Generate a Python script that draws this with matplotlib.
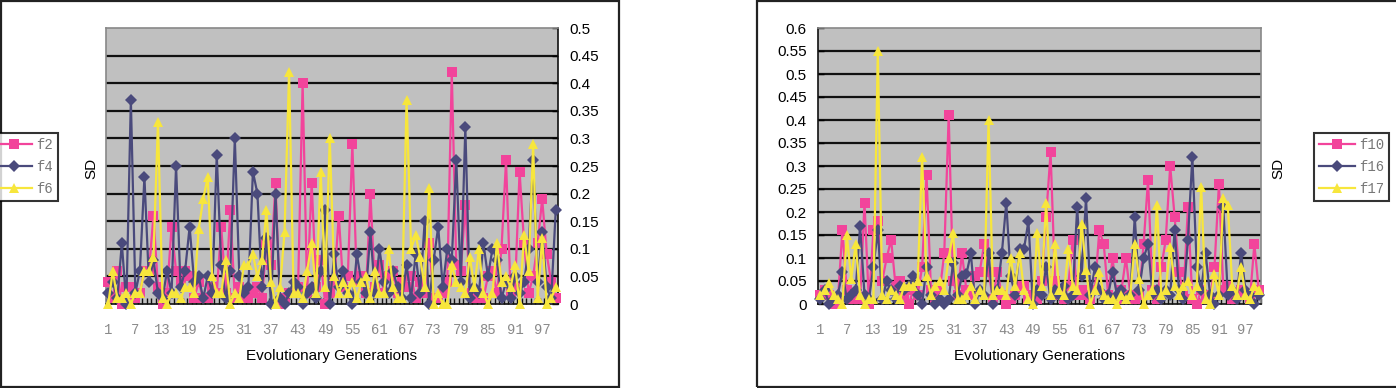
import matplotlib
matplotlib.use("Agg")
import matplotlib.pyplot as plt
from matplotlib.patches import Rectangle
import numpy as np

plt.rcParams['font.family'] = ['Liberation Sans', 'DejaVu Sans']

generations = list(range(1, 101))
xtick_labels = [str(v) for v in range(1, 101, 6)]

f2 = [0.04, 0.01, 0.06, 0.00, 0.03, 0.03, 0.01, 0.02, 0.06, 0.06,
      0.16, 0.03, 0.00, 0.02, 0.14, 0.06, 0.04, 0.06, 0.05, 0.01,
      0.04, 0.01, 0.01, 0.03, 0.02, 0.14, 0.02, 0.17, 0.01, 0.03,
      0.01, 0.01, 0.02, 0.03, 0.01, 0.11, 0.07, 0.22, 0.00, 0.01,
      0.02, 0.02, 0.03, 0.40, 0.02, 0.22, 0.03, 0.08, 0.00, 0.02,
      0.04, 0.16, 0.03, 0.05, 0.29, 0.04, 0.05, 0.02, 0.20, 0.03,
      0.07, 0.02, 0.05, 0.06, 0.02, 0.04, 0.03, 0.05, 0.01, 0.04,
      0.02, 0.11, 0.01, 0.01, 0.02, 0.04, 0.42, 0.07, 0.06, 0.18,
      0.02, 0.01, 0.02, 0.01, 0.05, 0.06, 0.02, 0.10, 0.26, 0.02,
      0.03, 0.24, 0.11, 0.02, 0.05, 0.11, 0.19, 0.09, 0.04, 0.01]
f4 = [0.02, 0.04, 0.01, 0.11, 0.00, 0.37, 0.02, 0.06, 0.23, 0.04,
      0.08, 0.02, 0.01, 0.06, 0.02, 0.25, 0.03, 0.06, 0.14, 0.04,
      0.05, 0.01, 0.05, 0.02, 0.27, 0.07, 0.01, 0.06, 0.30, 0.05,
      0.02, 0.03, 0.24, 0.20, 0.03, 0.12, 0.00, 0.20, 0.01, 0.00,
      0.02, 0.04, 0.03, 0.00, 0.02, 0.03, 0.01, 0.06, 0.17, 0.00,
      0.09, 0.03, 0.06, 0.02, 0.00, 0.09, 0.04, 0.02, 0.13, 0.02,
      0.10, 0.04, 0.02, 0.06, 0.03, 0.01, 0.07, 0.01, 0.09, 0.02,
      0.15, 0.00, 0.08, 0.14, 0.03, 0.10, 0.08, 0.26, 0.04, 0.32,
      0.01, 0.03, 0.02, 0.11, 0.05, 0.10, 0.08, 0.01, 0.04, 0.01,
      0.05, 0.02, 0.04, 0.10, 0.26, 0.04, 0.13, 0.03, 0.01, 0.17]
f6 = [0.00, 0.06, 0.01, 0.01, 0.02, 0.00, 0.02, 0.02, 0.06, 0.06,
      0.085, 0.33, 0.01, 0.00, 0.02, 0.02, 0.01, 0.03, 0.03, 0.02,
      0.135, 0.19, 0.23, 0.05, 0.02, 0.02, 0.08, 0.00, 0.02, 0.01,
      0.07, 0.07, 0.09, 0.05, 0.08, 0.17, 0.04, 0.00, 0.03, 0.13,
      0.42, 0.02, 0.02, 0.01, 0.06, 0.11, 0.02, 0.24, 0.03, 0.30,
      0.05, 0.02, 0.04, 0.02, 0.04, 0.01, 0.04, 0.05, 0.01, 0.06,
      0.02, 0.02, 0.10, 0.03, 0.01, 0.01, 0.37, 0.10, 0.125, 0.085,
      0.03, 0.21, 0.00, 0.02, 0.00, 0.00, 0.07, 0.04, 0.03, 0.02,
      0.085, 0.03, 0.10, 0.02, 0.00, 0.02, 0.11, 0.04, 0.05, 0.03,
      0.07, 0.00, 0.125, 0.06, 0.29, 0.01, 0.12, 0.00, 0.01, 0.03]

f10 = [0.02, 0.03, 0.02, 0.00, 0.01, 0.16, 0.03, 0.01, 0.02, 0.01,
       0.22, 0.00, 0.16, 0.18, 0.05, 0.10, 0.14, 0.04, 0.05, 0.02,
       0.00, 0.03, 0.02, 0.08, 0.28, 0.03, 0.01, 0.03, 0.11, 0.41,
       0.05, 0.02, 0.11, 0.03, 0.02, 0.06, 0.07, 0.13, 0.07, 0.01,
       0.07, 0.02, 0.00, 0.01, 0.02, 0.04, 0.04, 0.01, 0.02, 0.01,
       0.05, 0.19, 0.33, 0.05, 0.02, 0.01, 0.04, 0.14, 0.02, 0.03,
       0.02, 0.01, 0.03, 0.16, 0.13, 0.02, 0.10, 0.01, 0.03, 0.10,
       0.02, 0.01, 0.02, 0.13, 0.27, 0.03, 0.01, 0.08, 0.14, 0.30,
       0.19, 0.07, 0.02, 0.21, 0.01, 0.00, 0.03, 0.02, 0.01, 0.08,
       0.26, 0.03, 0.04, 0.01, 0.02, 0.03, 0.02, 0.01, 0.13, 0.03]
f16 = [0.01, 0.03, 0.00, 0.01, 0.02, 0.07, 0.01, 0.02, 0.03, 0.17,
       0.02, 0.01, 0.08, 0.16, 0.01, 0.05, 0.03, 0.01, 0.04, 0.03,
       0.04, 0.06, 0.02, 0.00, 0.08, 0.02, 0.00, 0.01, 0.00, 0.01,
       0.09, 0.02, 0.06, 0.065, 0.11, 0.00, 0.03, 0.02, 0.11, 0.00,
       0.03, 0.11, 0.22, 0.06, 0.02, 0.12, 0.12, 0.18, 0.00, 0.03,
       0.02, 0.08, 0.01, 0.03, 0.02, 0.04, 0.01, 0.02, 0.21, 0.06,
       0.23, 0.02, 0.08, 0.03, 0.01, 0.02, 0.07, 0.02, 0.03, 0.01,
       0.02, 0.19, 0.03, 0.10, 0.13, 0.02, 0.03, 0.01, 0.03, 0.02,
       0.16, 0.03, 0.01, 0.14, 0.32, 0.08, 0.03, 0.11, 0.02, 0.00,
       0.02, 0.21, 0.02, 0.03, 0.01, 0.11, 0.03, 0.02, 0.00, 0.02]
f17 = [0.02, 0.03, 0.045, 0.02, 0.01, 0.00, 0.15, 0.055, 0.13, 0.02,
       0.00, 0.01, 0.01, 0.55, 0.02, 0.01, 0.03, 0.02, 0.01, 0.04,
       0.04, 0.04, 0.05, 0.32, 0.06, 0.02, 0.04, 0.05, 0.03, 0.10,
       0.155, 0.01, 0.01, 0.02, 0.04, 0.01, 0.03, 0.02, 0.40, 0.02,
       0.03, 0.03, 0.02, 0.10, 0.04, 0.11, 0.03, 0.01, 0.00, 0.155,
       0.04, 0.22, 0.02, 0.13, 0.03, 0.02, 0.12, 0.04, 0.03, 0.175,
       0.075, 0.00, 0.03, 0.07, 0.02, 0.01, 0.01, 0.00, 0.02, 0.01,
       0.02, 0.13, 0.055, 0.00, 0.02, 0.03, 0.215, 0.02, 0.03, 0.125,
       0.04, 0.02, 0.04, 0.05, 0.02, 0.04, 0.255, 0.01, 0.00, 0.065,
       0.02, 0.23, 0.215, 0.04, 0.02, 0.08, 0.02, 0.01, 0.04, 0.03]

PINK = '#F2449B'
NAVY = '#4A4A7C'
YELLOW = '#F7E63C'

W, H = 1396, 388
fig = plt.figure(figsize=(W / 100, H / 100), dpi=100)


def px_axes(x0, x1, ytop, ybot):
    return fig.add_axes([x0 / W, (H - ybot) / H, (x1 - x0) / W, (ybot - ytop) / H])


def style_axes(ax, ymax, yside):
    ax.set_facecolor('#C0C0C0')
    ax.set_xlim(0.5, 100.5)
    ax.set_ylim(0, ymax)
    ticks = np.arange(0, ymax + 1e-9, 0.05)
    ax.set_yticks(ticks)
    ax.set_yticklabels(['0' if t == 0 else ('%.2f' % t).rstrip('0').rstrip('.') for t in ticks])
    for t in ticks[1:-1]:
        ax.axhline(t, color='#111111', lw=1.6, zorder=1)
    ax.set_xticks(range(1, 101, 6))
    ax.set_xticklabels(xtick_labels, fontsize=10, color='#8a8a8a', family=['Liberation Mono', 'DejaVu Sans Mono'])
    ax.set_xticks(np.arange(0.5, 101, 1), minor=True)
    ax.tick_params(axis='x', which='major', length=0, pad=14)
    ax.tick_params(axis='x', which='minor', length=4, direction='in', width=1, color='#111111')
    ax.tick_params(axis='y', labelsize=11, length=4, direction='in', width=1, pad=8)
    if yside == 'right':
        ax.yaxis.tick_right()
    for s in ['top', 'left', 'right']:
        ax.spines[s].set_color('#888888')
    ax.spines['bottom'].set_color('#111111')
    ax.spines[yside].set_color('#111111')
    for s in ax.spines.values():
        s.set_linewidth(1.2)
    ax.set_xlabel('Evolutionary Generations', fontsize=11, labelpad=8)


def draw(ax, series, labels):
    styles = [(PINK, 's', 6.5), (NAVY, 'D', 6), (YELLOW, '^', 7.5)]
    handles = []
    for vals, lab, (c, m, ms) in zip(series, labels, styles):
        h, = ax.plot(generations, vals, color=c, marker=m, markersize=ms, lw=1.6,
                     markeredgewidth=0, label=lab, zorder=3, clip_on=False)
        handles.append(h)
    return handles


def make_legend(handles, x_px):
    leg = fig.legend(handles=handles, loc='center left', bbox_to_anchor=(x_px / W, 1 - 167 / H),
                     frameon=True, fancybox=False, edgecolor='black',
                     handlelength=2.6, handletextpad=0.3, borderpad=0.35, labelspacing=0.55,
                     prop={'family': ['Liberation Mono', 'DejaVu Sans Mono'], 'size': 10})
    leg.get_frame().set_linewidth(1.5)
    for t in leg.get_texts():
        t.set_color('#777777')
    return leg


# Left panel
axL = px_axes(106, 558, 28, 304)
style_axes(axL, 0.5, 'right')
hL = draw(axL, [f2, f4, f6], ['f2', 'f4', 'f6'])
fig.text(91 / W, 1 - 168 / H, 'SD', rotation=90, ha='center', va='center', fontsize=11)
make_legend(hL, -16)

# Right panel
axR = px_axes(818, 1261, 28, 304)
style_axes(axR, 0.6, 'left')
hR = draw(axR, [f10, f16, f17], ['f10', 'f16', 'f17'])
fig.text(1278 / W, 1 - 168 / H, 'SD', rotation=90, ha='center', va='center', fontsize=11)
make_legend(hR, 1307)

# Panel frames
fig.patches.append(Rectangle((1 / W, 1 / H), 618 / W, 386 / H, transform=fig.transFigure,
                             fill=False, edgecolor='#222222', lw=1.6))
fig.patches.append(Rectangle((757 / W, 1 / H), 660 / W, 386 / H, transform=fig.transFigure,
                             fill=False, edgecolor='#222222', lw=1.6))

fig.savefig('out.png', dpi=100)
